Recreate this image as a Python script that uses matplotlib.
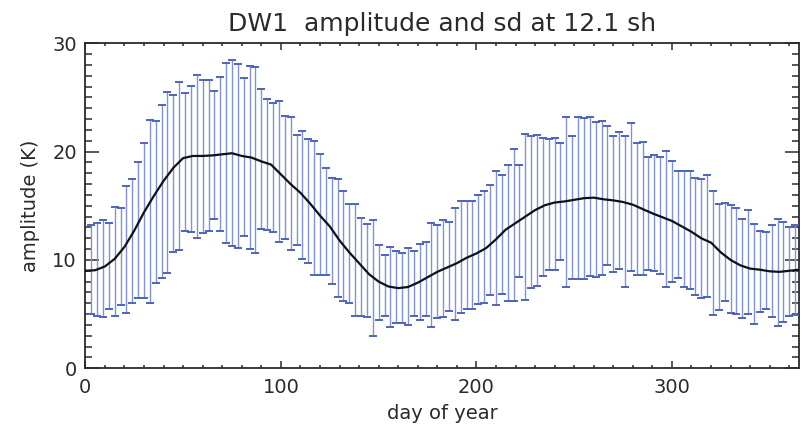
import numpy as np
import matplotlib
matplotlib.use('Agg')
import matplotlib.pyplot as plt
from matplotlib.ticker import MultipleLocator

# error bars every 3 days (day 3 ... 363)
bar_days = np.arange(3, 364, 3)

upper = [13.2, 13.4, 13.7, 13.4, 14.9, 14.8, 16.8, 17.5, 19.0, 20.8,
         22.9, 22.8, 24.3, 25.5, 25.2, 26.4, 25.4, 26.1, 27.1, 26.6,
         26.6, 25.6, 26.9, 28.2, 28.5, 28.1, 26.8, 27.9, 27.8, 25.8,
         24.9, 24.5, 24.7, 23.3, 23.2, 21.5, 21.9, 21.2, 21.0, 19.8,
         18.5, 17.6, 17.5, 16.4, 15.2, 15.2, 13.9, 13.3, 13.7, 11.4,
         10.5, 11.2, 10.8, 10.6, 11.1, 10.8, 11.5, 11.7, 13.4, 13.2,
         13.7, 13.5, 14.8, 15.4, 15.4, 15.4, 16.0, 16.4, 16.9, 18.2,
         17.8, 18.8, 20.2, 18.8, 21.6, 21.4, 21.5, 21.3, 21.2, 21.3,
         20.8, 23.2, 21.4, 23.2, 23.1, 23.2, 22.7, 22.8, 22.4, 21.4,
         21.8, 21.4, 22.6, 20.8, 20.9, 19.5, 19.7, 19.5, 20.1, 19.1,
         18.2, 18.2, 18.2, 17.6, 17.5, 17.8, 16.4, 15.2, 15.3, 15.1,
         14.8, 13.8, 14.6, 13.3, 12.7, 12.6, 13.2, 13.8, 13.5, 13.0,
         13.2]

lower = [5.0, 4.8, 4.7, 5.5, 4.8, 5.8, 5.1, 6.0, 6.5, 6.5,
         6.0, 7.9, 8.3, 8.8, 10.7, 10.9, 12.7, 12.6, 12.0, 12.5,
         12.7, 13.8, 12.7, 11.6, 11.3, 11.1, 12.2, 11.0, 10.6, 12.9,
         12.8, 12.6, 11.7, 11.9, 10.9, 11.4, 10.1, 9.7, 8.6, 8.6,
         8.6, 7.8, 6.6, 6.2, 6.0, 4.8, 4.8, 4.7, 3.0, 4.5,
         4.8, 3.8, 4.2, 4.2, 4.0, 4.8, 4.5, 4.8, 3.8, 4.6,
         4.7, 5.3, 4.5, 5.1, 5.5, 5.5, 5.9, 6.0, 6.8, 5.8,
         6.9, 6.2, 6.2, 8.4, 6.3, 7.4, 7.6, 8.5, 9.1, 9.1,
         10.0, 7.5, 8.2, 8.2, 8.2, 8.5, 8.4, 8.6, 9.5, 8.9,
         9.2, 7.5, 9.0, 8.6, 8.6, 9.1, 9.0, 8.7, 7.5, 8.0,
         8.3, 7.5, 7.3, 6.8, 6.5, 6.6, 4.9, 5.4, 6.2, 5.1,
         5.0, 4.6, 5.0, 4.1, 5.2, 5.5, 4.7, 3.9, 4.3, 4.8,
         4.9]

# mean amplitude curve
line_days = [0, 5, 10, 15, 20, 25, 30, 35, 40, 45, 50, 55, 60, 65, 70, 75,
             80, 85, 90, 95, 100, 105, 110, 115, 120, 125, 130, 135, 140,
             145, 150, 155, 160, 165, 170, 175, 180, 185, 190, 195, 200,
             205, 210, 215, 220, 225, 230, 235, 240, 245, 250, 255, 260,
             265, 270, 275, 280, 285, 290, 295, 300, 305, 310, 315, 320,
             325, 330, 335, 340, 345, 350, 355, 360, 365]
line_amp = [9.0, 9.05, 9.4, 10.1, 11.2, 12.7, 14.4, 15.9, 17.3, 18.5, 19.4,
            19.6, 19.6, 19.65, 19.75, 19.85, 19.6, 19.45, 19.1, 18.8, 17.9,
            17.0, 16.2, 15.2, 14.1, 13.1, 11.8, 10.7, 9.7, 8.7, 8.0, 7.55,
            7.4, 7.5, 7.9, 8.4, 8.9, 9.3, 9.7, 10.2, 10.6, 11.1, 11.9, 12.8,
            13.4, 14.0, 14.6, 15.05, 15.3, 15.4, 15.55, 15.7, 15.75, 15.6,
            15.5, 15.35, 15.1, 14.7, 14.3, 13.95, 13.6, 13.1, 12.6, 12.0,
            11.6, 10.7, 10.0, 9.5, 9.2, 9.1, 8.95, 8.9, 9.0, 9.1]

upper = np.array(upper)
lower = np.array(lower)
mid = (upper + lower) / 2
half = (upper - lower) / 2

text_color = '#2a2a2a'
plt.rcParams['font.family'] = ['DejaVu Sans']

fig = plt.figure(figsize=(8.02, 4.32), dpi=100)
ax = fig.add_axes([0.1064, 0.1475, 0.8899, 0.7523])

ax.errorbar(bar_days, mid, yerr=half, fmt='none', ecolor='#8193d6',
            elinewidth=1.0, capsize=2.6, capthick=1.2, zorder=2)
# darker cap ends
ax.plot(bar_days, upper, ls='none', marker='_', ms=5.5, mew=1.3, color='#4c62b4', zorder=3)
ax.plot(bar_days, lower, ls='none', marker='_', ms=5.5, mew=1.3, color='#4c62b4', zorder=3)

ax.plot(line_days, line_amp, color='#111111', lw=1.6, zorder=4)

ax.set_xlim(0, 365)
ax.set_ylim(0, 30)
ax.xaxis.set_major_locator(MultipleLocator(100))
ax.xaxis.set_minor_locator(MultipleLocator(10))
ax.yaxis.set_major_locator(MultipleLocator(10))
ax.yaxis.set_minor_locator(MultipleLocator(1))

ax.tick_params(axis='both', which='both', direction='in', top=True, right=True,
               colors=text_color, labelsize=14, width=1.1)
ax.tick_params(axis='x', which='major', length=4.7, pad=7)
ax.tick_params(axis='x', which='minor', length=2.4)
ax.tick_params(axis='y', which='major', length=10, pad=6)
ax.tick_params(axis='y', which='minor', length=5)

for sp in ax.spines.values():
    sp.set_linewidth(1.3)
    sp.set_color(text_color)

ax.set_title('DW1  amplitude and sd at 12.1 sh', fontsize=18, color=text_color, pad=9)
ax.set_xlabel('day of year', fontsize=14, color=text_color, labelpad=5)
ax.set_ylabel('amplitude (K)', fontsize=14, color=text_color, labelpad=9)

plt.savefig('out.png', dpi=100)
